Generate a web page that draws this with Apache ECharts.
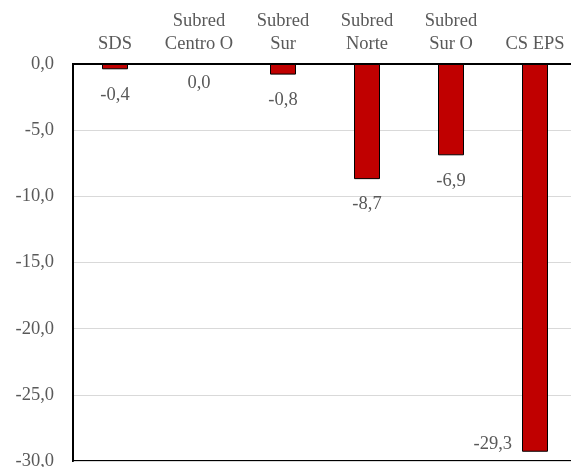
<!DOCTYPE html>
<html>
<head>
<meta charset="utf-8">
<script src="https://cdn.jsdelivr.net/npm/echarts@6/dist/echarts.min.js"></script>
<style>html,body{margin:0;padding:0;background:#fff;overflow:hidden;}#c{width:571px;height:467px;}</style>
</head>
<body>
<div id="c"></div>
<script>
var categories = ['SDS', 'Subred\nCentro O', 'Subred\nSur', 'Subred\nNorte', 'Subred\nSur O', 'CS EPS'];
var values = [-0.4, 0.0, -0.8, -8.7, -6.9, -29.3];
var yTicks = { min: -30, max: 0, interval: 5 };

function fmt(v) { return Number(v).toFixed(1).replace('.', ','); }

var font = '"Liberation Serif", "Times New Roman", serif';
var chart = echarts.init(document.getElementById('c'), null, { renderer: 'canvas' });
var data = values.map(function (v, i) {
  var item = { value: v };
  if (i === values.length - 1) {
    item.label = { position: [-10, '98%'], align: 'right', verticalAlign: 'middle' };
  } else if (v === 0) {
    item.label = { distance: 9 };
  }
  return item;
});
chart.setOption({
  animation: false,
  backgroundColor: '#fff',
  grid: { left: 73, width: 504, top: 64, bottom: 6, containLabel: false, outerBoundsMode: 'none', show: true, borderColor: '#000', borderWidth: 2, backgroundColor: 'transparent' },
  xAxis: {
    type: 'category',
    position: 'top',
    data: categories,
    axisLine: { show: true, lineStyle: { color: '#000', width: 2 } },
    axisTick: { show: false },
    axisLabel: { color: '#595959', fontFamily: font, fontSize: 18.5, lineHeight: 23, margin: 8, interval: 0 }
  },
  yAxis: {
    type: 'value',
    min: yTicks.min, max: yTicks.max, interval: yTicks.interval,
    axisLine: { show: true, lineStyle: { color: '#000', width: 2 } },
    axisTick: { show: false },
    splitLine: { show: true, lineStyle: { color: '#d9d9d9', width: 1 } },
    axisLabel: { color: '#595959', fontFamily: font, fontSize: 18.5, margin: 19, formatter: function (v) { return fmt(v); } }
  },
  series: [{
    type: 'bar',
    data: data,
    barWidth: 26,
    itemStyle: { color: '#c00000', borderColor: '#000', borderWidth: 1 },
    label: {
      show: true, position: 'bottom', distance: 16,
      color: '#595959', fontFamily: font, fontSize: 18.5,
      formatter: function (p) { return fmt(p.value); }
    }
  }]
});
</script>
</body>
</html>
